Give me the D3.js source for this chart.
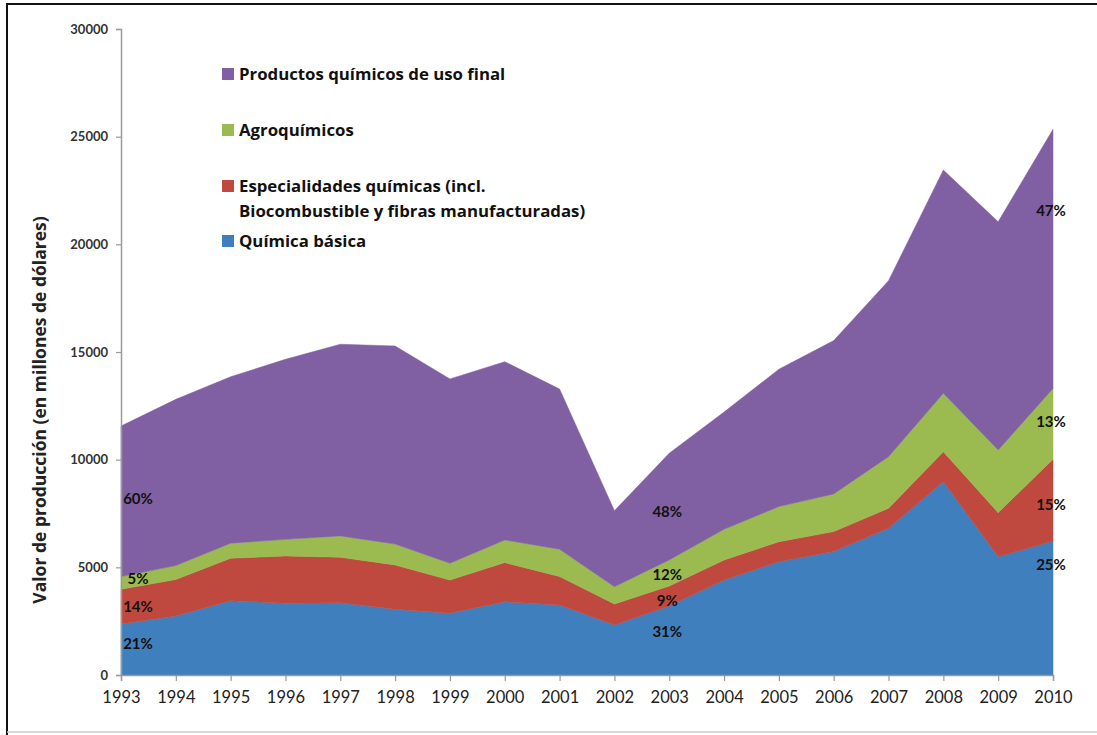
<!DOCTYPE html>
<html>
<head>
<meta charset="utf-8">
<script src="https://cdn.jsdelivr.net/npm/d3@7"></script>
<style>
  html, body { margin: 0; padding: 0; background: #fff; }
  svg { display: block; font-family: Lato, "Open Sans", sans-serif; }
</style>
</head>
<body>
<svg id="chart" width="1097" height="735"></svg>
<script>
// ---- data ----
const years = [1993,1994,1995,1996,1997,1998,1999,2000,2001,2002,2003,2004,2005,2006,2007,2008,2009,2010];
const quimicaBasica   = [2370,2740,3450,3330,3360,3050,2870,3400,3250,2320,3200,4410,5260,5730,6810,8980,5490,6220];
const especialidades  = [1610,1700,1970,2200,2110,2060,1540,1820,1320, 980, 930, 930, 930, 930, 930,1390,2050,3800];
const agroquimicos    = [ 590, 640, 700, 770, 990, 970, 780,1050,1270, 800,1210,1430,1630,1750,2400,2710,2910,3290];
const usoFinal        = [6990,7720,7730,8360,8900,9200,8560,8280,7440,3530,4960,5440,6380,7120,8170,10370,10600,12030];
const seriesKeys   = ["basica","especialidades","agro","usoFinal"];
const seriesNames  = ["Química básica","Especialidades químicas (incl.|Biocombustible y fibras manufacturadas)","Agroquímicos","Productos químicos de uso final"];
const seriesColors = ["#3f7fbd","#c0493f","#9bbb50","#8060a2"];
const yTicks = [0,5000,10000,15000,20000,25000,30000];
// percentage annotations: label, year, value (data units for vertical placement)
const pctLabels   = ["60%","5%","14%","21%","48%","12%","9%","31%","47%","13%","15%","25%"];
const pctYears    = [1993,1993,1993,1993,2003,2003,2003,2003,2010,2010,2010,2010];
const pctValues   = [8200,4480,3160,1430,7600,4650,3450,2030,21550,11750,7900,5100];

// ---- layout ----
const svg = d3.select("#chart");
const x = d3.scaleLinear().domain([1993, 2010]).range([121, 1053]);
const y = d3.scaleLinear().domain([0, 30000]).range([675, 29]);

// frame
svg.append("line").attr("x1", 6).attr("x2", 1097).attr("y1", 4).attr("y2", 4).attr("stroke", "#111").attr("stroke-width", 2);
svg.append("line").attr("x1", 7).attr("x2", 7).attr("y1", 3).attr("y2", 735).attr("stroke", "#111").attr("stroke-width", 2);
svg.append("line").attr("x1", 7).attr("x2", 1097).attr("y1", 732).attr("y2", 732).attr("stroke", "#c8c8c8").attr("stroke-width", 1.5);

// stacked data
const table = years.map((yr, i) => ({
  year: yr,
  basica: quimicaBasica[i],
  especialidades: especialidades[i],
  agro: agroquimicos[i],
  usoFinal: usoFinal[i]
}));
const stacked = d3.stack().keys(seriesKeys)(table);

const area = d3.area()
  .x(d => x(d.data.year))
  .y0(d => y(d[0]))
  .y1(d => y(d[1]));

svg.append("g").selectAll("path")
  .data(stacked)
  .join("path")
  .attr("d", area)
  .attr("fill", (d, i) => seriesColors[i])
  .attr("stroke", (d, i) => seriesColors[i])
  .attr("stroke-width", 0.5);

// axes
const yAxis = d3.axisLeft(y).tickValues(yTicks).tickSize(5).tickPadding(8).tickFormat(d3.format("d"));
const gy = svg.append("g").attr("transform", "translate(121,0)").call(yAxis);
gy.select(".domain").attr("stroke", "#9a9a9a").attr("stroke-width", 1.5);
gy.selectAll(".tick line").attr("stroke", "#9a9a9a").attr("stroke-width", 1.2);
gy.selectAll(".tick text").attr("font-size", 13).attr("font-weight", 700).attr("fill", "#333").attr("font-family", "Lato, sans-serif");

const xAxis = d3.axisBottom(x).tickValues(years).tickSize(6).tickPadding(10).tickFormat(d3.format("d"));
const gx = svg.append("g").attr("transform", "translate(0,675)").call(xAxis);
gx.select(".domain").attr("stroke", "#9a9a9a").attr("stroke-width", 1.5);
gx.selectAll(".tick line").attr("stroke", "#9a9a9a").attr("stroke-width", 1.2);
gx.selectAll(".tick text").attr("font-size", 16.5).attr("fill", "#222").attr("font-family", "Lato, sans-serif");

// y axis title
svg.append("text")
  .attr("transform", "translate(40,410) rotate(-90)")
  .attr("text-anchor", "middle")
  .attr("dy", "0.35em")
  .attr("font-family", "'Open Sans', sans-serif")
  .attr("font-size", 17.5)
  .attr("font-weight", 700)
  .attr("fill", "#222")
  .text("Valor de producción (en millones de dólares)");

// legend (top to bottom: reversed order)
const legendOrder = [3, 2, 1, 0];
const legendY = [74, 130, 186, 241];
const lg = svg.append("g");
legendOrder.forEach((si, k) => {
  const cy = legendY[k];
  lg.append("rect").attr("x", 222).attr("y", cy - 6).attr("width", 12).attr("height", 12).attr("fill", seriesColors[si]);
  const lines = seriesNames[si].split("|");
  lines.forEach((ln, j) => {
    lg.append("text")
      .attr("x", 239).attr("y", cy + 6 + j * 25)
      .attr("font-family", "'Open Sans', sans-serif")
      .attr("font-size", 16.8).attr("font-weight", 700).attr("fill", "#111")
      .text(ln);
  });
});

// percentage annotations
svg.append("g").selectAll("text")
  .data(pctLabels.map((t, i) => ({ t, yr: pctYears[i], v: pctValues[i] })))
  .join("text")
  .attr("x", d => x(d.yr) + (d.yr === 1993 ? 17 : -2))
  .attr("y", d => y(d.v))
  .attr("dy", "0.35em")
  .attr("text-anchor", "middle")
  .attr("font-size", 15)
  .attr("font-weight", 700)
  .attr("fill", "#111")
  .text(d => d.t);
</script>
</body>
</html>
